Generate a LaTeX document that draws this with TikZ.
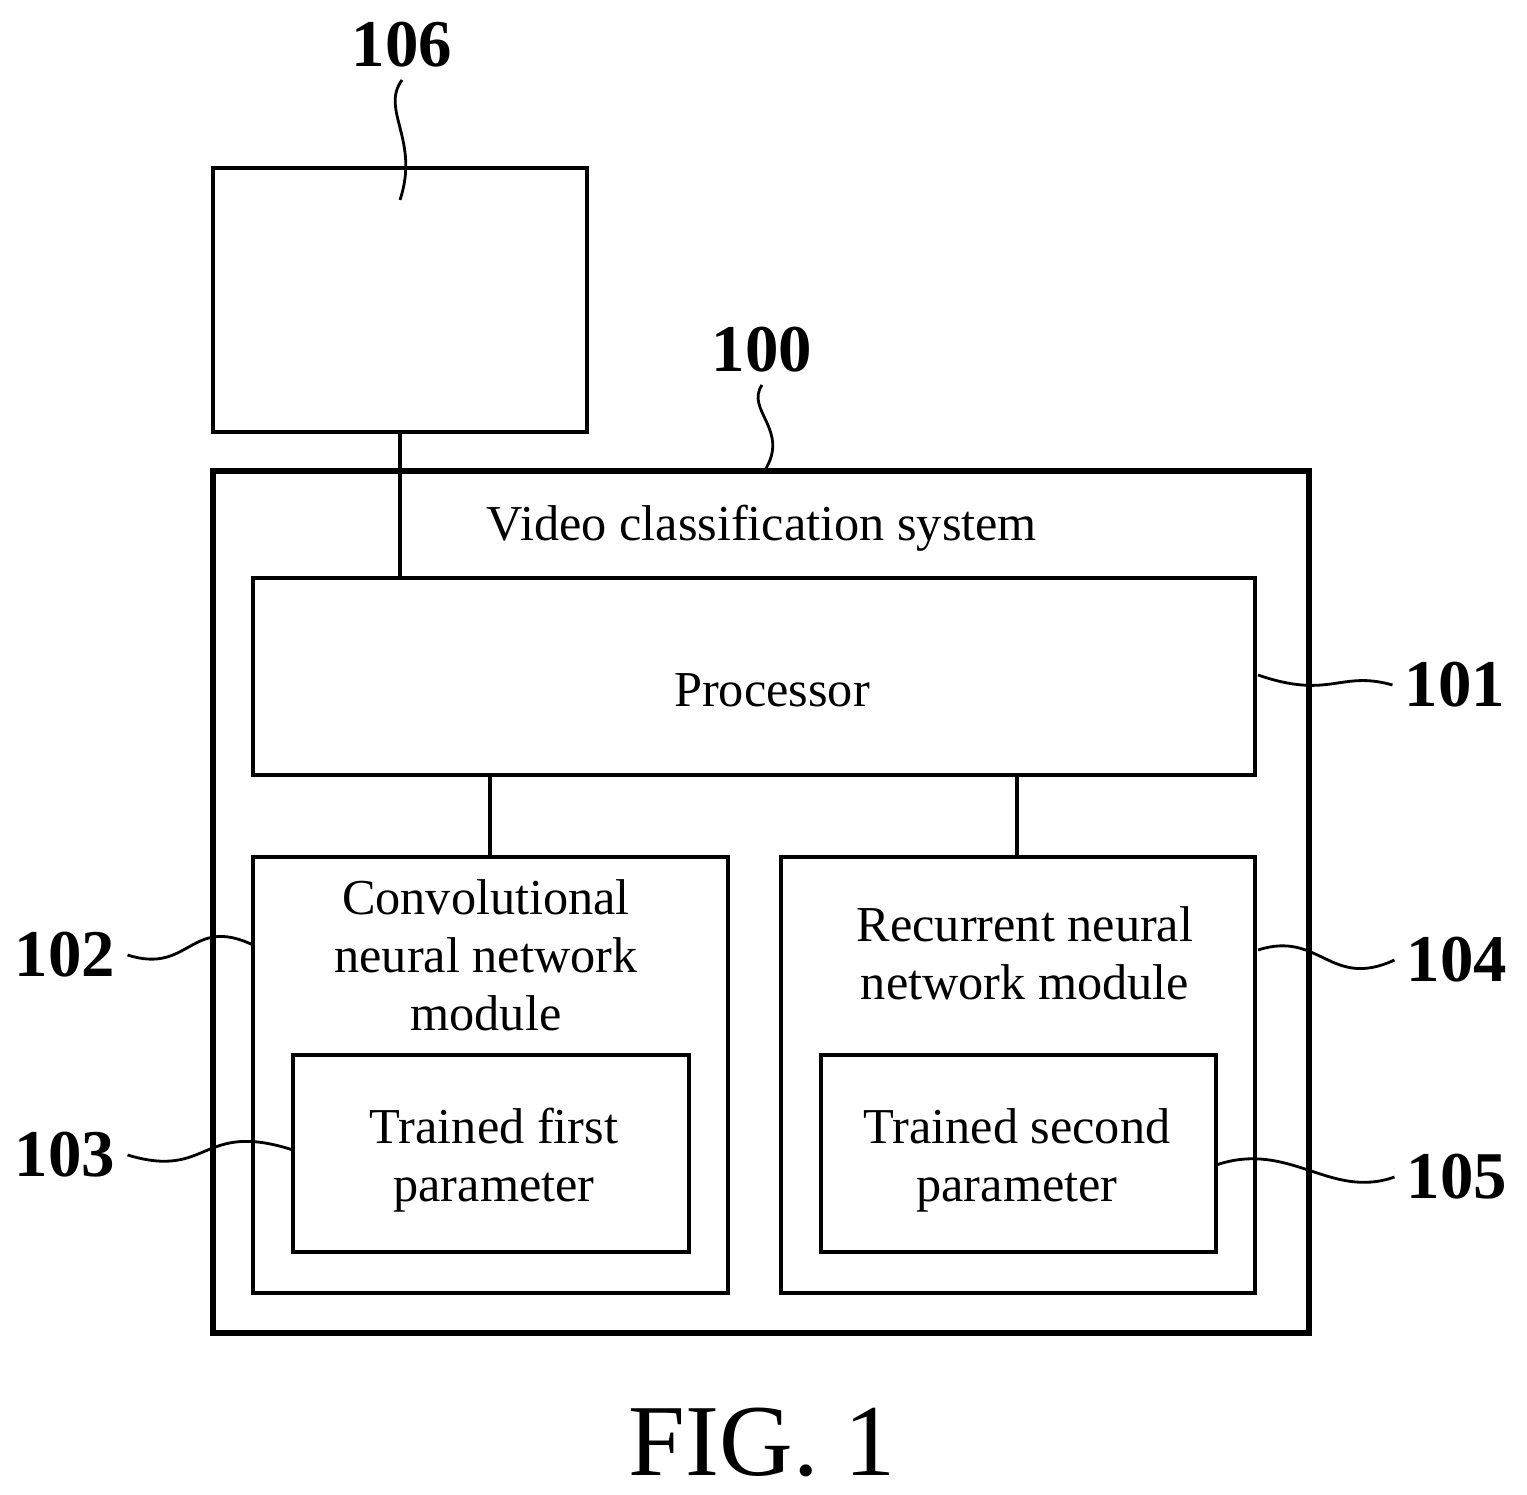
\documentclass[tikz,border=0pt]{standalone}
\usepackage{fontspec}
\setmainfont{Liberation Serif}
\begin{document}
\begin{tikzpicture}[x=0.01cm,y=-0.01cm,
  box/.style={draw, line width=1.4pt},
  lead/.style={line width=0.8pt},
  num/.style={font=\fontsize{19}{19}\selectfont\bfseries},
  txt/.style={font=\fontsize{14.3}{16.5}\selectfont, align=center}]
  \useasboundingbox (0,0) rectangle (1527,1495);

  % Boxes
  \draw[box] (213,168) rectangle (587,432);
  \draw[box, line width=1.8pt] (213,471) rectangle (1309,1333);
  \draw[box] (253,578) rectangle (1255,775);
  \draw[box] (253,857) rectangle (728,1293);
  \draw[box] (293,1055) rectangle (689,1252);
  \draw[box] (781,857) rectangle (1255,1293);
  \draw[box] (821,1055) rectangle (1216,1252);

  % Texts
  \node[txt] (sys) at (762,528) {Video classification system};
  \node[txt] (proc) at (772,690) {Processor};
  \node[txt] (cnn) at (486,955) {Convolutional\\neural network\\module};
  \node[txt] (rnn) at (1025,953) {Recurrent neural\\network module};
  \node[txt] (first) at (494,1160) {Trained first\\parameter};
  \node[txt] (second) at (1017,1160) {Trained second\\parameter};
  \node[font=\fontsize{29}{29}\selectfont] (fig) at (762,1442) {FIG. 1};

  % Connections
  \coordinate (t106) at (400,432);
  \coordinate (tproc) at (400,578);
  \coordinate (pa) at (490,775);
  \coordinate (pb) at (490,857);
  \coordinate (pc) at (1017,775);
  \coordinate (pd) at (1017,857);
  \draw[lead, line width=1.2pt] (t106) -- (tproc);
  \draw[lead, line width=1.2pt] (pa) -- (pb);
  \draw[lead, line width=1.2pt] (pc) -- (pd);

  % Reference numerals
  \node[num] (n106) at (402,45) {106};
  \node[num] (n100) at (762,350) {100};
  \node[num] (n101) at (1455,685) {101};
  \node[num] (n102) at (65,955) {102};
  \node[num] (n103) at (65,1155) {103};
  \node[num] (n104) at (1457,960) {104};
  \node[num] (n105) at (1457,1177) {105};

  \coordinate (e106) at (400,200);
  \coordinate (e100) at (765,470);
  \coordinate (e101) at (1258,675);
  \coordinate (e102) at (253,945);
  \coordinate (e103) at (293,1150);
  \coordinate (e104) at (1258,950);
  \coordinate (e105) at (1216,1165);

  \draw[lead] (n106.south) .. controls (380,110) and (420,140) .. (e106);
  \draw[lead] (n100.south) .. controls (745,410) and (790,430) .. (e100);
  \draw[lead] (n101.west) .. controls (1340,670) and (1330,700) .. (e101);
  \draw[lead] (n102.east) .. controls (190,975) and (190,915) .. (e102);
  \draw[lead] (n103.east) .. controls (210,1180) and (200,1120) .. (e103);
  \draw[lead] (n104.west) .. controls (1330,990) and (1320,930) .. (e104);
  \draw[lead] (n105.west) .. controls (1330,1200) and (1290,1140) .. (e105);
\end{tikzpicture}
\end{document}
